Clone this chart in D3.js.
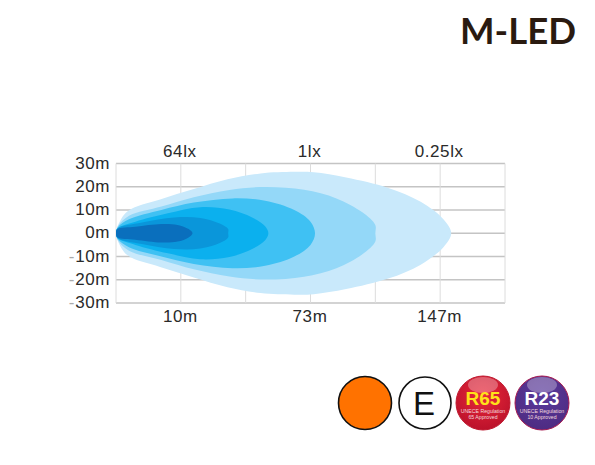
<!DOCTYPE html>
<html><head><meta charset="utf-8">
<script src="https://cdn.jsdelivr.net/npm/d3@7"></script>
<style>html,body{margin:0;background:#fff}svg{display:block}</style></head>
<body><div id="c"></div>
<script>
const yTicks=[30,20,10,0,-10,-20,-30];
const yLabels=["30m","20m","10m","0m","-10m","-20m","-30m"];
const gridSteps=[0,1,2,3,4,5,6];
const xLabels=[{step:1,text:"10m"},{step:3,text:"73m"},{step:5,text:"147m"}];
const luxLabels=[{step:1,text:"64lx"},{step:3,text:"1lx"},{step:5,text:"0.25lx"}];
// beam outlines: [grid step, half width in metres]
const beam025=[[0,0],[0.03,3.4],[0.18,9.5],[0.68,14.5],[1.2,19],[1.72,23.2],[2.23,25.7],[2.75,26.4],[3.05,26.2],[3.55,24],[4.2,19.5],[4.7,13.5],[5.05,6],[5.17,0]];
const beam1=[[0,0],[0.03,3],[0.2,7.5],[0.7,11.5],[1.2,15.5],[1.75,18.6],[2.3,19.9],[2.9,18.7],[3.4,15],[3.8,9],[4,3.5],[4.0,0]];
const beam4=[[0,0],[0.03,2.6],[0.2,6],[0.7,10],[1.2,13.2],[1.8,15],[2.3,14],[2.75,10],[3,5],[3.07,0]];
const beam16=[[0,0],[0.03,2.2],[0.3,5],[0.8,8.6],[1.3,11.2],[1.75,10.2],[2.1,6.8],[2.3,3],[2.35,0]];
const beam32=[[0,0],[0.02,2],[0.4,4.6],[0.9,6.8],[1.3,6.6],[1.6,4.2],[1.73,1.8],[1.73,0]];
const beam64=[[0,0],[0.02,1.7],[0.3,2.8],[0.7,4],[0.95,3.6],[1.12,1.8],[1.18,0]];
const beams=[beam025,beam1,beam4,beam16,beam32,beam64];
const beamColors=["#c9e9fb","#94d8f8","#3fc1f3","#0bb0ee","#0a96da","#0a6fbd"];

const svg=d3.select("#c").append("svg").attr("width",595).attr("height",465);
const x=d3.scaleLinear().domain([0,6]).range([116,505]);
const y=d3.scaleLinear().domain([30,-30]).range([163.5,303]);

const grid=svg.append("g");
grid.selectAll("line.h").data(yTicks).join("line").attr("class","h")
 .attr("x1",x(0)).attr("x2",x(6)).attr("y1",d=>y(d)).attr("y2",d=>y(d))
 .attr("stroke","#c4c4c4").attr("stroke-width",1.3);
grid.selectAll("line.v").data(gridSteps).join("line").attr("class","v")
 .attr("y1",y(30)).attr("y2",y(-30)).attr("x1",d=>x(d)).attr("x2",d=>x(d))
 .attr("stroke","#dcdcdc").attr("stroke-width",1);

const outline=d3.line().x(d=>x(d[0])).y(d=>y(d[1])).curve(d3.curveCatmullRomClosed.alpha(0.5));
svg.selectAll("path.beam").data(beams).join("path").attr("class","beam")
 .attr("fill",(d,i)=>beamColors[i])
 .attr("d",d=>{
   const upper=d; const lower=d.slice(1,-1).reverse().map(p=>[p[0],-p[1]]);
   return outline(upper.concat(lower));
 });

const font='"Liberation Sans",Arial,sans-serif';
const lab=svg.append("g").attr("font-family",font).attr("font-size",17).attr("fill","#2a2a2a").attr("letter-spacing",0.6);
const yl=lab.selectAll("text.y").data(yLabels).join("text").attr("class","y")
 .attr("text-anchor","end").attr("x",110).attr("y",(d,i)=>y(yTicks[i])+5);
yl.each(function(d){
  const t=d3.select(this);
  if(d[0]==="-"){t.append("tspan").attr("fill","#aaa").text("-");t.append("tspan").text(d.slice(1));}
  else t.text(d);
});
lab.selectAll("text.b").data(xLabels).join("text").attr("class","b")
 .attr("text-anchor","middle").attr("x",d=>x(d.step)-0.5).attr("y",322).text(d=>d.text);
lab.selectAll("text.t").data(luxLabels).join("text").attr("class","t")
 .attr("text-anchor","middle").attr("x",d=>x(d.step)-1).attr("y",157).text(d=>d.text);

svg.append("text").attr("x",460).attr("y",44).attr("font-family",'Lato,"Open Sans",sans-serif')
 .attr("font-weight",700).attr("font-size",37).attr("fill","#2a1a10").attr("textLength",116).attr("lengthAdjust","spacingAndGlyphs").text("M-LED");

const defs=svg.append("defs");
const gr=defs.append("radialGradient").attr("id","red").attr("cx","50%").attr("cy","35%").attr("r","70%");
gr.append("stop").attr("offset","0").attr("stop-color","#e8283a");gr.append("stop").attr("offset","1").attr("stop-color","#b8102a");
const gp=defs.append("radialGradient").attr("id","pur").attr("cx","50%").attr("cy","35%").attr("r","70%");
gp.append("stop").attr("offset","0").attr("stop-color","#5a3a9c");gp.append("stop").attr("offset","1").attr("stop-color","#4d2a80");

svg.append("circle").attr("cx",365).attr("cy",403).attr("r",26.5).attr("fill","#ff7200").attr("stroke","#111").attr("stroke-width",1.6);
svg.append("circle").attr("cx",425).attr("cy",403).attr("r",26).attr("fill","#fff").attr("stroke","#111").attr("stroke-width",1.6);
svg.append("text").attr("x",424).attr("y",415).attr("text-anchor","middle").attr("font-family",font).attr("font-size",33).attr("fill","#111").text("E");

const badges=[
 {cx:483,fill:"url(#red)",edge:"#c01a30",label:"R65",color:"#ffe21a",sub:["UNECE Regulation","65 Approved"]},
 {cx:542,fill:"url(#pur)",edge:"#a81a50",label:"R23",color:"#fff",sub:["UNECE Regulation","10 Approved"]}];
const bg=svg.selectAll("g.badge").data(badges).join("g").attr("class","badge").attr("transform",d=>`translate(${d.cx},403)`);
bg.append("circle").attr("r",27).attr("fill",d=>d.fill).attr("stroke",d=>d.edge).attr("stroke-width",1);
bg.append("ellipse").attr("cy",-18).attr("rx",15).attr("ry",8).attr("fill","#fff").attr("opacity",0.3);
bg.append("text").attr("y",2).attr("text-anchor","middle").attr("font-family",font).attr("font-weight",700).attr("font-size",19).attr("fill",d=>d.color).text(d=>d.label);
bg.append("text").attr("y",10).attr("text-anchor","middle").attr("font-family",font).attr("font-size",5.2).attr("fill","#f3d9df").text(d=>d.sub[0]);
bg.append("text").attr("y",16).attr("text-anchor","middle").attr("font-family",font).attr("font-size",5.2).attr("fill","#f3d9df").text(d=>d.sub[1]);
</script></body></html>
